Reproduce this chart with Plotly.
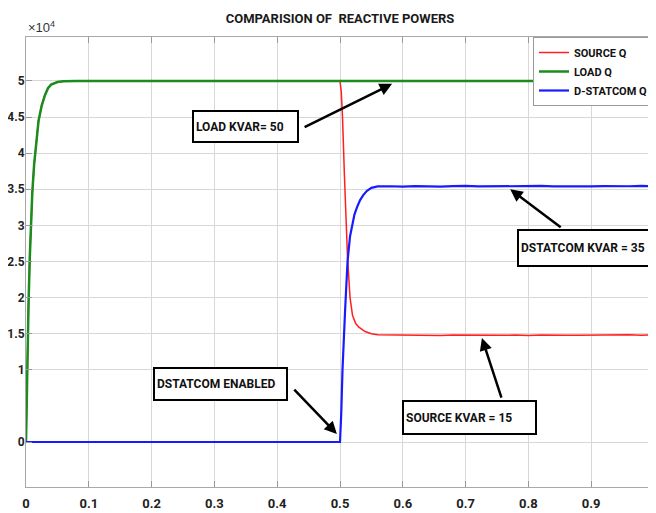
import plotly.graph_objects as go

# ---------------- data ----------------
# LOAD Q (VAR)
t_load = [0, 0.001, 0.002, 0.004, 0.006, 0.008, 0.010, 0.013, 0.016, 0.020,
          0.025, 0.030, 0.035, 0.040, 0.050, 0.060, 0.080, 0.2, 0.5, 1.0]
q_load = [0, 6000, 11000, 19000, 25500, 30500, 34500, 38500, 41500, 44500,
          46600, 48000, 49000, 49500, 49850, 49950, 50000, 50000, 50000, 50000]

# SOURCE Q (VAR)
t_source = [0, 0.001, 0.002, 0.004, 0.006, 0.008, 0.010, 0.013, 0.016, 0.020,
            0.025, 0.030, 0.035, 0.040, 0.050, 0.060, 0.080, 0.2, 0.5,
            0.502, 0.504, 0.507, 0.510, 0.512, 0.516, 0.520, 0.525, 0.530,
            0.540, 0.550, 0.560,
            0.58, 0.60, 0.62, 0.64, 0.66, 0.68, 0.70, 0.72, 0.74, 0.76, 0.78,
            0.80, 0.82, 0.84, 0.86, 0.88, 0.90, 0.92, 0.94, 0.96, 0.98, 1.00]
q_source = [0, 6000, 11000, 19000, 25500, 30500, 34500, 38500, 41500, 44500,
            46600, 48000, 49000, 49500, 49850, 49950, 50000, 50000, 50000,
            48500, 45000, 37000, 29000, 25500, 20000, 17500, 16400, 15900,
            15300, 15000, 14850,
            14820, 14780, 14850, 14790, 14760, 14830, 14800, 14770, 14840, 14790, 14810,
            14760, 14820, 14850, 14790, 14800, 14830, 14770, 14810, 14840, 14790, 14820]

# D-STATCOM Q (VAR)
t_dstatcom = [0, 0.5, 0.502, 0.504, 0.508, 0.512, 0.516, 0.519, 0.523, 0.527,
              0.532, 0.537, 0.543, 0.550, 0.560,
              0.58, 0.60, 0.62, 0.64, 0.66, 0.68, 0.70, 0.72, 0.74, 0.76, 0.78,
              0.80, 0.82, 0.84, 0.86, 0.88, 0.90, 0.92, 0.94, 0.96, 0.98, 1.00]
q_dstatcom = [0, 0, 4000, 10000, 18000, 25000, 28500, 30000, 31500, 32500,
              33500, 34200, 34800, 35200, 35400,
              35420, 35380, 35450, 35400, 35360, 35430, 35470, 35390, 35410, 35450, 35380,
              35420, 35460, 35400, 35370, 35430, 35410, 35450, 35390, 35420, 35460, 35400]

series_names = ["SOURCE Q", "LOAD Q", "D-STATCOM Q"]

y_tick_vals = [0, 10000, 15000, 20000, 25000, 30000, 35000, 40000, 45000, 50000]
y_tick_text = ["0", "1", "1.5", "2", "2.5", "3", "3.5", "4", "4.5", "5"]
x_tick_vals = [0, 0.1, 0.2, 0.3, 0.4, 0.5, 0.6, 0.7, 0.8, 0.9, 1.0]
x_tick_text = ["0", "0.1", "0.2", "0.3", "0.4", "0.5", "0.6", "0.7", "0.8", "0.9", "1"]

# callouts: label text and the point each arrow points at
callout_labels = ["LOAD KVAR= 50", "DSTATCOM KVAR = 35", "SOURCE KVAR = 15", "DSTATCOM ENABLED"]
callout_tip_t = [0.583, 0.771, 0.726, 0.495]
callout_tip_q = [49600, 35000, 14400, 1100]

title_text = "COMPARISION OF\u00a0 REACTIVE POWERS"

# ---------------- styling ----------------
# the page has an 8px body margin, so the figure starts at page (8, 8)
OFF = 8
PAGE_W, PAGE_H = 656, 513
W, H = PAGE_W - OFF, PAGE_H - OFF
# plot area in page pixels
PL, PR, PT, PB = 26, 654, 37, 487
ML, MR, MT, MB = PL - OFF, PAGE_W - PR, PT - OFF, PAGE_H - PB
PW, PH = PR - PL, PB - PT
FONT = "Roboto, Liberation Sans, Arial, sans-serif"


def px2x(px):
    return (px - PL) / PW


def py2y(py):
    return (PB - py) / PH


fig = go.Figure()
fig.add_trace(go.Scatter(x=t_source, y=q_source, mode="lines", name=series_names[0],
                         line=dict(color="#ff1f1f", width=1.5)))
fig.add_trace(go.Scatter(x=t_load, y=q_load, mode="lines", name=series_names[1],
                         line=dict(color="#1c8c1c", width=2.5)))
fig.add_trace(go.Scatter(x=t_dstatcom, y=q_dstatcom, mode="lines", name=series_names[2],
                         line=dict(color="#1a1aff", width=2.2)))

grid = "#d8d8d8"
axis_line = "#a8a8a8"

fig.update_layout(
    template="none",
    width=W, height=H,
    margin=dict(l=ML, r=MR, t=MT, b=MB, pad=0, autoexpand=False),
    paper_bgcolor="white", plot_bgcolor="white",
    title=dict(text=title_text, x=px2x(340), xref="paper", xanchor="center",
               y=1 - (18 - OFF) / H, yref="container", yanchor="middle",
               font=dict(family=FONT, size=13, color="#1a1a1a", weight="bold")),
    showlegend=True,
    legend=dict(x=1, y=1, xanchor="right", yanchor="top", xref="paper", yref="paper",
                bgcolor="white", bordercolor="#9a9a9a", borderwidth=1,
                font=dict(family=FONT, size=11, color="#111111", weight="bold"),
                itemwidth=30, tracegroupgap=0),
    xaxis=dict(range=[0, 1], tickvals=x_tick_vals, ticktext=x_tick_text,
               showgrid=True, gridcolor=grid, gridwidth=1, zeroline=False,
               showline=True, linecolor=axis_line, linewidth=1, mirror="ticks",
               ticks="inside", ticklen=6, tickcolor="#999999",
               tickfont=dict(family=FONT, size=13, color="#222222", weight="bold"),
               automargin=False, ticklabelstandoff=4, ticklabeloverflow="allow"),
    yaxis=dict(range=[-6230, 56090], tickvals=y_tick_vals, ticktext=y_tick_text,
               showgrid=True, gridcolor=grid, gridwidth=1, zeroline=False,
               showline=True, linecolor=axis_line, linewidth=1, mirror="ticks",
               ticks="inside", ticklen=6, tickcolor="#999999",
               tickfont=dict(family=FONT, size=12, color="#222222", weight="bold"),
               automargin=False, ticklabelstandoff=-2, ticklabeloverflow="allow"),
)

# x10^4 exponent label
fig.add_annotation(text="\u00d710<sup>4</sup>", xref="paper", yref="paper",
                   x=px2x(26), y=py2y(27), xanchor="left", yanchor="middle",
                   showarrow=False, font=dict(family="Liberation Sans, Arial, sans-serif",
                                              size=13, color="#333333"))

# arrow tails (pixel offsets from tip) and label boxes (page-pixel boxes)
tails = [(-89, 44), (52, 39), (20, 61), (-44, -46)]
boxes = [(192, 110, 299, 143), (517, 229, 653, 267), (402, 400, 537, 435), (153, 367, 288, 401)]
box_font = dict(family=FONT, size=12, color="#111111", weight="bold")

for lab, tt, tq, (ax, ay), (x0, y0, x1, y1) in zip(callout_labels, callout_tip_t, callout_tip_q, tails, boxes):
    fig.add_annotation(x=tt, y=tq, xref="x", yref="y", ax=ax, ay=ay,
                       axref="pixel", ayref="pixel", text="", showarrow=True,
                       arrowhead=2, arrowsize=1, arrowwidth=2.5, arrowcolor="black",
                       standoff=0)
    fig.add_annotation(x=px2x((x0 + x1) / 2), y=py2y((y0 + y1) / 2), xref="paper", yref="paper",
                       xanchor="center", yanchor="middle", text=lab, showarrow=False,
                       width=(x1 - x0) - 8, height=(y1 - y0) - 8, align="left", valign="middle",
                       bordercolor="black", borderwidth=2, borderpad=2, bgcolor="white",
                       font=box_font)

fig.write_html("out.html")
